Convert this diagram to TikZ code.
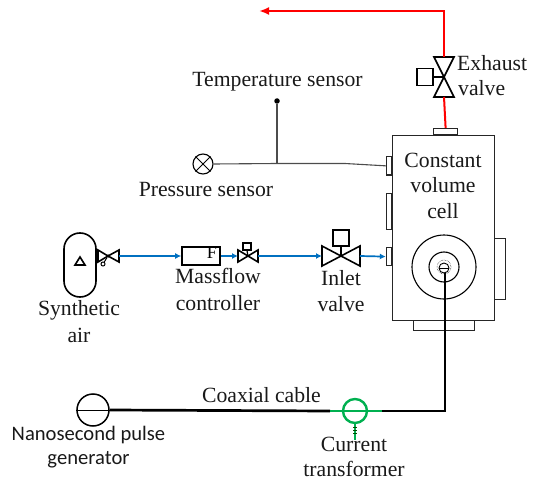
\documentclass[tikz,border=0pt]{standalone}
\usepackage{fontspec}
\setmainfont{Liberation Serif}
\newfontfamily\calibfont{Carlito}
\usetikzlibrary{arrows.meta}
\definecolor{pipeblue}{RGB}{0,112,192}
\definecolor{ctgreen}{RGB}{0,176,80}
\tikzset{
 x=1pt,y=-1pt,
 lbl/.style={inner sep=0pt,font=\rmfamily\fontsize{21.7}{22}\selectfont,text=black!90},
 lblsans/.style={inner sep=0pt,font=\calibfont\fontsize{20.6}{21}\selectfont,text=black!90},
 part/.style={draw=black!85,line width=1.2pt,fill=white},
 sym/.style={draw=black,line width=1.6pt,fill=white},
 bluepipe/.style={draw=pipeblue,line width=1.7pt,-{Latex[length=6pt,width=6pt]}},
 redpipe/.style={draw=red,line width=2pt},
 wire/.style={draw=black!70,line width=1.1pt},
 coax/.style={draw=black,line width=2.7pt},
 greenp/.style={draw=ctgreen,line width=2.2pt},
}
\begin{document}
\begin{tikzpicture}
\useasboundingbox (0,0) rectangle (535,481);
% constant volume cell
\node[part,minimum width=102pt,minimum height=184.5pt,inner sep=0pt,anchor=north west] (cell) at (392,135) {};
\node[part,minimum width=24pt,minimum height=6pt,inner sep=0pt,anchor=south west] (topfl) at (433,135) {};
\node[part,minimum width=5pt,minimum height=18.5pt,inner sep=0pt,anchor=north east] (p1) at (392,156) {};
\node[part,minimum width=5pt,minimum height=36pt,inner sep=0pt,anchor=north east] (p2) at (392,193) {};
\node[part,minimum width=5pt,minimum height=18pt,inner sep=0pt,anchor=north east] (p3) at (392,247) {};
\node[part,minimum width=10.5pt,minimum height=61pt,inner sep=0pt,anchor=north west] (rfl) at (494,238) {};
\node[part,minimum width=61pt,minimum height=10pt,inner sep=0pt,anchor=north west] (bfl) at (413,320) {};
\node[draw=black,line width=1.1pt,circle,minimum size=64pt,inner sep=0pt] (c1) at (444,267) {};
\node[draw=black,line width=1.1pt,circle,minimum size=30pt,inner sep=0pt] (c2) at (444,267) {};
\node[draw=black,line width=0.5pt,densely dotted,circle,minimum size=14pt,inner sep=0pt] (c3) at (444,267) {};
\node[draw=black,line width=0.9pt,circle,minimum size=10pt,inner sep=0pt] (c4) at (444,268) {};
\draw[line width=0.9pt] (c4.west) -- (c4.east);
% exhaust
\coordinate (ex) at (444,77);
\coordinate (redend) at (259,11);
\node[sym,minimum width=16pt,minimum height=17pt,inner sep=0pt] (exbox) at (425,77) {};
\draw[sym,line join=miter] (ex) -- (434,97) -- (454,97) -- cycle;
\draw[sym,line join=miter] (ex) -- (434,57) -- (454,57) -- cycle;
\draw[line width=1.6pt] (exbox.east) -- (ex);
\coordinate (exT) at (444,57);
\coordinate (exB) at (444,97);
\coordinate (redc) at (444,11);
\draw[redpipe] (topfl.north) -- (exB);
\draw[redpipe,-{Latex[length=10pt,width=8pt]}] (exT) -- (redc) -- (redend);
% sensors
\node[draw=black,line width=1.1pt,circle,minimum size=20pt,inner sep=0pt] (ps) at (203,164) {};
\draw[line width=0.9pt] (ps.north west) -- (ps.south east) (ps.north east) -- (ps.south west);
\node[fill=black,circle,minimum size=5.5pt,inner sep=0pt] (ts) at (277,101) {};
\coordinate (tj) at (277,163.5);
\coordinate (tk) at (345,163.5);
\draw[wire] (ps.east) -- (tj) -- (tk) -- (p1.west);
\draw[wire] (ts) -- (tj);
% synthetic air
\node[draw=black,line width=1.6pt,rounded corners=16pt,minimum width=32pt,minimum height=64pt,inner sep=0pt] (tank) at (80,265) {};
\draw[line width=1.6pt,line join=miter] (75,265) -- (80,257) -- (85,265) -- cycle;
\coordinate (v1) at (108,256);
\draw[sym] (v1) -- (98,250) -- (98,262) -- cycle;
\draw[sym] (v1) -- (119,250) -- (119,262) -- cycle;
\node[fill=black,circle,minimum size=3.5pt,inner sep=0pt] (v1c) at (108,256) {};
\node[draw=black,line width=1pt,circle,minimum size=4pt,inner sep=0pt] (v1h) at (103,264) {};
\draw[line width=1pt] (v1c) -- (v1h);
\coordinate (v1r) at (119,256);
% massflow
\node[sym,minimum width=38pt,minimum height=18.5pt,inner sep=0pt] (mfc) at (201,256) {};
\node[inner sep=0pt,font=\rmfamily\fontsize{18}{18}\selectfont] (f) at (212,253) {F};
\draw[bluepipe] (v1r) -- (mfc.west);
% small valve
\coordinate (v2) at (248,256);
\coordinate (v2l) at (238,256);
\coordinate (v2r) at (258,256);
\node[draw=black,line width=1.2pt,minimum width=8pt,minimum height=7pt,inner sep=0pt] (v2box) at (247,246.5) {};
\draw[sym] (v2) -- (238,250) -- (238,262) -- cycle;
\draw[sym] (v2) -- (258,250) -- (258,262) -- cycle;
\draw[line width=1.2pt] (v2box.south) -- (v2);
\draw[bluepipe] (mfc.east) -- (v2l);
% inlet valve
\coordinate (v3) at (341,256);
\coordinate (v3l) at (322,256);
\coordinate (v3r) at (360,256);
\node[draw=black,line width=1.3pt,fill=white,minimum width=16pt,minimum height=16pt,inner sep=0pt] (v3box) at (341,238) {};
\draw[sym,line join=miter] (v3) -- (322,246) -- (322,266) -- cycle;
\draw[sym,line join=miter] (v3) -- (360,246) -- (360,266) -- cycle;
\draw[line width=1.4pt] (v3box.south) -- (v3);
\draw[bluepipe] (v2r) -- (v3l);
\draw[bluepipe] (v3r) -- (p3.west);
% coax
\node[draw=black,line width=1.5pt,circle,minimum size=32pt,inner sep=0pt] (gen) at (93,410) {};
\draw[line width=1pt] (gen.west) -- (gen.east);
\coordinate (g1) at (330,411);
\coordinate (g2) at (382,411);
\coordinate (cc) at (445,411);
\coordinate (ce) at (445,273);
\draw[coax] (gen.east) -- (g1);
\draw[coax] (g2) -- (cc) -- (ce);
\node[draw=ctgreen,line width=2.4pt,circle,minimum size=24pt,inner sep=0pt] (ct) at (355,411) {};
\draw[greenp] (g1) -- (g2);
\coordinate (ctb) at (355,440);
\draw[greenp] (ct.south) -- (ctb);
\draw[black!70!green,line width=0.8pt] (353,427) -- (357,427) (353,430) -- (357,430) (353,433) -- (357,433);
% labels
\node[lbl] (t1) at (277.5,82) {Temperature sensor};
\node[lbl] (t2) at (206,190) {Pressure sensor};
\node[lbl,anchor=west] (t3) at (457,63) {Exhaust};
\node[lbl,anchor=west] (t4) at (458,88) {valve};
\node[lbl] (t5) at (443,160) {Constant};
\node[lbl] (t6) at (443,185) {volume};
\node[lbl] (t7) at (443,211) {cell};
\node[lbl] (t8) at (79,310) {Synthetic};
\node[lbl] (t9) at (79,335) {air};
\node[lbl] (t10) at (218,276) {Massflow};
\node[lbl] (t11) at (218,303) {controller};
\node[lbl] (t12) at (341,278) {Inlet};
\node[lbl] (t13) at (341,304) {valve};
\node[lbl] (t14) at (261.5,395) {Coaxial cable};
\node[lblsans] (t15) at (88.5,435) {Nanosecond pulse};
\node[lblsans] (t16) at (88.5,460) {generator};
\node[lbl] (t17) at (354,444) {Current};
\node[lbl] (t18) at (354,469) {transformer};
\end{tikzpicture}
\end{document}
